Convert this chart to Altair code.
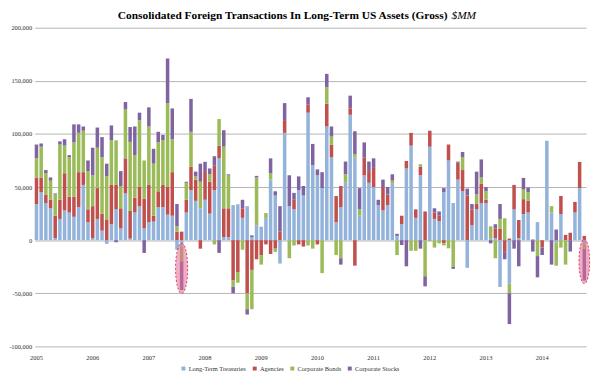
import altair as alt
import pandas as pd

series_names = ["Long-Term Treasuries", "Agencies", "Corporate Bonds", "Corporate Stocks"]
series_colors = ["#93B3DB", "#C0504D", "#9BBB59", "#8064A2"]

months = [f"{y}-{m:02d}" for y in range(2005, 2015) for m in range(1, 13)][:118]

treasuries = [34000, 45000, 35000, 30000, 2000, 20000, 28000, 26000, 22000, 31000, 52000, 17000,
              2000, 20000, 9000, -3500, 15000, 29000, 11000, 44000, 1500, 26000, 32000, 11000,
              17000, 17500, 31000, 31000, 24000, 23000, -9000, -6000, 26000, 47000, 37000, 30000,
              38000, 25000, 47000, 77000, 3000, 3000, 33000, 33000, 21000, 32000, 3000, 14000,
              12000, 21000, 57000, 42000, -22000, 101000, 32000, 29000, 47000, 42000, 120000, 70600,
              61000, 49000, 107000, 78000, 17000, 31000, 54000, 118000, 78000, 23000, 61000, 54000,
              50000, 33000, 28000, 33000, 53000, 4000, 15000, 67500, 89000, 21000, 61000, -1000,
              88000, 20000, 18000, 45000, 75000, 35000, 57000, 46000, -26000, 14000, 29000, 35000,
              35000, 2000, 2000, -44000, 0, -41000, 29000, 2000, 24600, 26000, 1000, 17000,
              0, 93600, 26000, -2000, 24600, 0, 0, 26000, 49000, -3000]
agencies = [25000, 14000, 8000, 8000, 21000, 18000, 35000, 15000, 19000, 33000, 12000, 12000,
            30000, 29000, 16000, 19000, 37000, 23000, 19000, 33000, 26000, 14000, 18000, 28000,
            35000, 5500, 15000, 21000, 26000, 41000, 8000, 8000, 12000, 22000, 20000, -8000,
            27000, 30000, 23000, 12000, 27000, 27000, -38000, -30000, 9000, -50000, -28000, -18000,
            -14000, -4000, -13000, -8000, 8000, 12000, 0, 9000, -4000, -6000, 7500, 0,
            -4000, 0, 21500, 12000, 24500, 20000, 0, 6000, -24000, 0, 17000, 11000,
            18000, 0, 22000, 10000, 0, 0, 8000, 7000, 12000, 8000, 8000, 27000,
            15000, 6000, 5000, -3000, 15000, 0, 16000, 20000, 42000, 15000, 5000, 18000,
            3000, 0, 9000, 11000, -11000, 1500, 23000, 17000, 14000, 11000, 0, 0,
            -7000, 0, 0, 0, 17000, 5000, 7000, 10000, 24600, 4000]
corp_bonds = [18000, 29000, 20000, 18000, 20000, 52000, 26000, 37000, 51000, 37000, 39000, 36000,
              29000, 38000, 53000, 41000, 42000, 42000, 21000, 46000, 65000, 40000, 63000, 36000,
              55000, 49000, 46000, 42000, 79000, 31000, 5000, -14000, 16000, 33000, 3000, 25000,
              0, 7000, -4000, 25000, 58000, 31000, -6000, -10000, -9000, -15000, -37000, 45000,
              -9000, 4500, 6000, -3000, 0, 0, -17000, -5000, 0, 0, -5000, -8000,
              0, -31000, 15500, 7500, -14000, -17000, 8000, 0, 3000, 6000, 0, 0,
              0, 0, 0, 0, 3000, -14000, 0, 0, -10000, -10000, 2500, -33000,
              -1000, -7000, -3000, -2000, -7700, -25000, 0, 12000, 0, 0, 9000, 6000,
              8000, 11000, -17000, 9000, 20600, -9000, 0, 0, 9000, 8000, 0, -15000,
              0, 0, 6000, -22000, -7000, -23000, 0, 0, 0, -5000]
corp_stocks = [13000, 3000, 3000, 3000, 1000, 3000, 6000, 2000, 17000, 8000, 4000, 10000,
               26000, 19000, 19000, 12000, 14000, -2000, 14000, 7000, 14000, 27000, 7000, -12000,
               18000, 14000, 10000, 5000, 42000, 29000, 21000, -27000, 1000, 31000, 4500, 17000,
               8700, 5500, 9000, -12000, 15500, 1000, -6000, 500, 8000, -5000, 1500, 1500,
               500, 0, 14000, 4000, 24000, 16000, 29000, 6500, 13000, 9000, 7000, 20000,
               5600, 15000, 12500, 9500, 0, -6000, 12000, 12000, 21500, 20000, 14000, 9000,
               9000, 5000, 7000, 7000, 6000, 2000, -4600, -24600, 0, 0, -8000, -9500,
               0, 4000, 4000, 4000, 0, -2000, 1000, 5000, 6500, 5000, 21500, 17000,
               4000, -3000, 4000, 14000, -7000, -29000, -8000, -24600, 11000, 4600, -10700, -20000,
               -7000, 0, -23000, 10000, 0, 0, -10700, 0, 0, -30000]

title_main = "Consolidated Foreign Transactions In Long-Term US Assets (Gross)"
title_unit = "$MM"

ann_months = ["2007-08", "2014-10"]
ann_centers = [-26500, -20000]
ann_sizes = [2600, 2025]

rows = []
for k, (name, vals) in enumerate(zip(series_names, [treasuries, agencies, corp_bonds, corp_stocks])):
    for m, v in zip(months, vals):
        rows.append({"month": m, "series": name, "k": k, "value": v})
df = pd.DataFrame(rows)

jan_months = [m for m in months if m.endswith("-01")]
FONT = "Liberation Serif"

x_scale = alt.Scale(domain=months, paddingInner=0.25, paddingOuter=0)

bars = alt.Chart(df).mark_bar().encode(
    x=alt.X("month:N", scale=x_scale, sort=months,
            axis=alt.Axis(values=jan_months, labelExpr="slice(datum.value, 0, 4)", title=None,
                          domain=False, ticks=False, labelAngle=0, labelPadding=8,
                          labelFont=FONT, labelFontSize=6.5, labelColor="#333333", grid=False)),
    y=alt.Y("value:Q", stack="zero",
            scale=alt.Scale(domain=[-100000, 200000], nice=False, zero=False),
            axis=alt.Axis(values=[-100000, -50000, 0, 50000, 100000, 150000, 200000],
                          labelExpr="replace(format(datum.value, ','), '\u2212', '-')",
                          title=None, domain=False, ticks=False, labelPadding=3,
                          labelFont=FONT, labelFontSize=6.5, labelColor="#333333",
                          grid=True, gridColor="#b4b4b4", gridWidth=1)),
    color=alt.Color("series:N", scale=alt.Scale(domain=series_names, range=series_colors),
                    legend=alt.Legend(orient="none", legendX=147, legendY=341, direction="horizontal",
                                      columns=4, title=None, symbolType="square", symbolSize=16,
                                      symbolStrokeWidth=0, labelFont=FONT, labelFontSize=6.5,
                                      labelColor="#333333", labelOffset=2, columnPadding=5)),
    order=alt.Order("k:Q", sort="ascending"),
)

ann = pd.DataFrame({"month": ann_months, "center": ann_centers, "size": ann_sizes})
ellipse = alt.Chart(ann).mark_point(
    shape="M0,-1A0.24,1,0,1,1,0,1A0.24,1,0,1,1,0,-1Z",
    filled=True, fill="#E46C93", fillOpacity=0.55, stroke="#D9405F", strokeWidth=1,
    strokeDash=[2, 2], strokeOpacity=1, opacity=1,
).encode(
    x=alt.X("month:N", scale=x_scale, sort=months),
    y=alt.Y("center:Q"),
    size=alt.Size("size:Q", scale=None),
)

tdf = pd.DataFrame({"t": [title_main], "u": [title_unit]})
title_bold = alt.Chart(tdf).mark_text(
    align="left", baseline="alphabetic", font=FONT, fontSize=11.5, fontWeight="bold", color="#000000"
).encode(text="t:N", x=alt.value(84), y=alt.value(-9))
title_ital = alt.Chart(tdf).mark_text(
    align="left", baseline="alphabetic", font=FONT, fontSize=11.5, fontStyle="italic", color="#000000"
).encode(text="u:N", x=alt.value(421), y=alt.value(-9))

chart = alt.layer(bars, ellipse, title_bold, title_ital).properties(
    width=557, height=322, padding={"left": 0, "top": 0, "right": 0, "bottom": 0}
).configure_view(stroke=None)

chart.save("out.html", embed_options={"renderer": "svg", "actions": False})
